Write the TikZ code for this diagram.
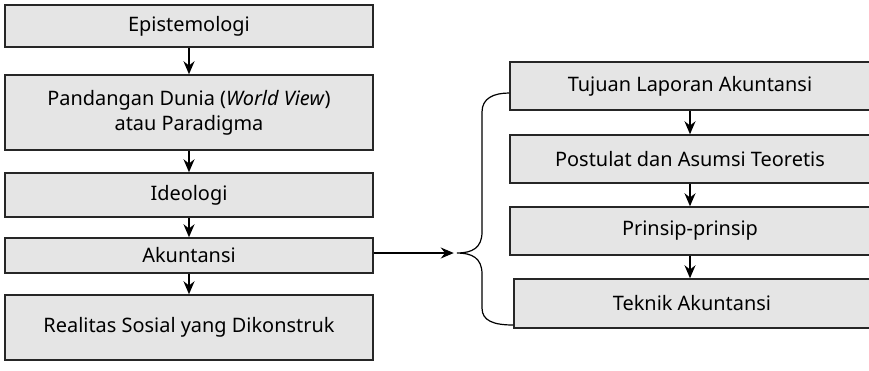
\documentclass[tikz,border=0pt]{standalone}
\usepackage{fontspec}
\setmainfont{Noto Sans}
\usetikzlibrary{arrows.meta,positioning}

\tikzset{
  blok/.style={draw=black!85,fill=black!10,line width=0.75bp,inner sep=0pt,
    align=center,font=\fontsize{10}{12.5}\selectfont},
  panah/.style={line width=0.6bp,-{Stealth[length=6.5bp,width=5.5bp]}},
}

\begin{document}
\begin{tikzpicture}[x=0.5bp,y=-0.5bp]
  \useasboundingbox (0,0) rectangle (869,370);

  % Left column.
  \node[blok,minimum width=184bp,minimum height=21bp]   (epis) at (189,26)    {Epistemologi};
  \node[blok,minimum width=184bp,minimum height=37.5bp] (pand) at (189,112.5) {Pandangan Dunia (\emph{World View})\\atau Paradigma};
  \node[blok,minimum width=184bp,minimum height=22bp]   (ideo) at (189,195)   {Ideologi};
  \node[blok,minimum width=184bp,minimum height=17.5bp] (akun) at (189,255.5) {Akuntansi};
  \node[blok,minimum width=184bp,minimum height=32.5bp] (real) at (189,327.5) {Realitas Sosial yang Dikonstruk};

  \draw[panah] (epis) -- (pand);
  \draw[panah] (pand) -- (ideo);
  \draw[panah] (ideo) -- (akun);
  \draw[panah] (akun) -- (real);

  % Right column.
  \node[blok,minimum width=180bp,minimum height=24bp] (tuju) at (690,86)    {Tujuan Laporan Akuntansi};
  \node[blok,minimum width=180bp,minimum height=24bp] (post) at (690,159)   {Postulat dan Asumsi Teoretis};
  \node[blok,minimum width=180bp,minimum height=24bp] (prin) at (690,231)   {Prinsip-prinsip};
  \node[blok,minimum width=178bp,minimum height=24.5bp] (tekn) at (692,303.5) {Teknik Akuntansi};

  \draw[panah] (tuju) -- (post);
  \draw[panah] (post) -- (prin);
  \draw[panah] (prin.south) -- (prin.south |- tekn.north);

  % Brace from Akuntansi.
  \coordinate (ujung) at (457,253);
  \coordinate (atas) at (tuju.west |- 0,93);
  \coordinate (bawah) at (tekn.west |- 0,325);
  \draw[panah] (akun.east |- ujung) -- ++(80,0);
  \draw[line width=0.6bp] (atas) .. controls (494,93) and (482,98) .. (482,112)
    -- (482,232) .. controls (482,248) and (472,253) .. (ujung)
    .. controls (472,253) and (482,258) .. (482,274)
    -- (482,308) .. controls (482,321) and (494,325) .. (bawah);
\end{tikzpicture}
\end{document}
